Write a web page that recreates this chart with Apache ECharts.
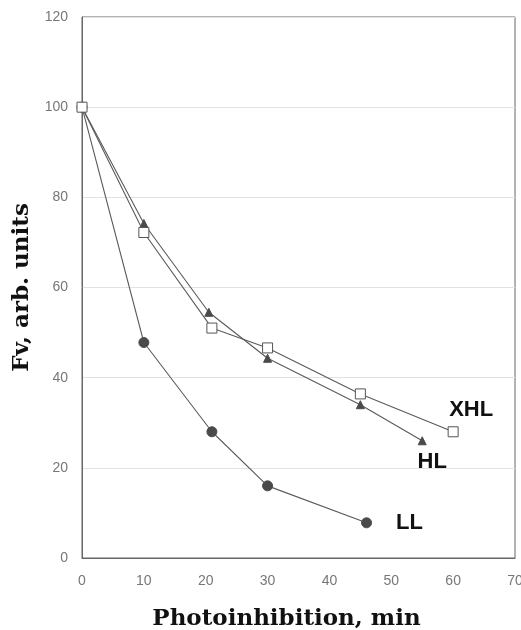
<!DOCTYPE html>
<html><head><meta charset="utf-8">
<script src="https://cdn.jsdelivr.net/npm/echarts@6/dist/echarts.min.js"></script>
<style>html,body{margin:0;padding:0;background:#fff}#c{width:521px;height:630px}</style>
</head><body><div id="c"></div>
<script>
const llX = [0, 10, 21, 30, 46];
const llY = [100, 47.8, 28, 16, 7.8];
const hlX = [0, 10, 20.5, 30, 45, 55];
const hlY = [100, 74.2, 54.5, 44.3, 34, 26];
const xhlX = [0, 10, 21, 30, 45, 60];
const xhlY = [100, 72.2, 51, 46.6, 36.4, 28];
const xTicks = [0, 10, 20, 30, 40, 50, 60, 70];
const yTicks = [0, 20, 40, 60, 80, 100, 120];
const seriesNames = ['LL', 'HL', 'XHL'];

function pts(xs, ys, lbl, lblOpt) {
  return xs.map((x, i) => {
    const d = { value: [x, ys[i]] };
    if (i === xs.length - 1) {
      d.label = Object.assign({ show: true, formatter: lbl, color: '#111', fontFamily: 'Liberation Sans, Arial', fontWeight: 'bold', fontSize: 22 }, lblOpt);
    }
    return d;
  });
}
const lineStyle = { color: '#5a5a5a', width: 1.1 };
const chart = echarts.init(document.getElementById('c'));
chart.setOption({
  animation: false,
  grid: { left: 82, right: 6, top: 17, bottom: 72, show: true, borderColor: '#666', borderWidth: 1, containLabel: false, outerBoundsMode: 'none' },
  xAxis: {
    type: 'value', min: 0, max: 70, interval: 10,
    name: 'Photoinhibition, min', nameLocation: 'middle', nameGap: 50,
    nameTextStyle: { fontFamily: 'DejaVu Serif', fontWeight: 'bold', fontSize: 23, color: '#111', padding: [0, 24, 0, 0] },
    axisLine: { show: true, lineStyle: { color: '#666' } },
    axisTick: { show: false },
    axisLabel: { color: '#777', fontSize: 14, fontFamily: 'Liberation Sans, Arial', margin: 16, formatter: v => xTicks.includes(v) ? String(v) : '' },
    splitLine: { show: false }
  },
  yAxis: {
    type: 'value', min: 0, max: 120, interval: 20,
    name: 'Fv, arb. units', nameLocation: 'middle', nameGap: 48, nameRotate: 90,
    nameTextStyle: { fontFamily: 'DejaVu Serif', fontWeight: 'bold', fontSize: 23, color: '#111' },
    axisLine: { show: true, lineStyle: { color: '#666' } },
    axisTick: { show: false },
    axisLabel: { color: '#777', fontSize: 14, fontFamily: 'Liberation Sans, Arial', margin: 14, formatter: v => yTicks.includes(v) ? String(v) : '' },
    splitLine: { show: true, lineStyle: { color: '#e2e2e2', width: 1 } }
  },
  series: [
    { name: seriesNames[0], type: 'line', data: pts(llX, llY, 'LL', { position: 'right', distance: 24 }),
      symbol: 'circle', symbolSize: 10, itemStyle: { color: '#4a4a4a', borderColor: '#4a4a4a' }, lineStyle, z: 3 },
    { name: seriesNames[1], type: 'line', data: pts(hlX, hlY, 'HL', { position: 'bottom', distance: 6, offset: [10, 0] }),
      symbol: 'triangle', symbolSize: 8, itemStyle: { color: '#4a4a4a', borderColor: '#4a4a4a' }, lineStyle, z: 3 },
    { name: seriesNames[2], type: 'line', data: pts(xhlX, xhlY, 'XHL', { position: 'top', distance: 5, offset: [18, 0] }),
      symbol: 'rect', symbolSize: 10, itemStyle: { color: '#fff', borderColor: '#555', borderWidth: 1 }, lineStyle, z: 4 }
  ]
});
</script></body></html>
